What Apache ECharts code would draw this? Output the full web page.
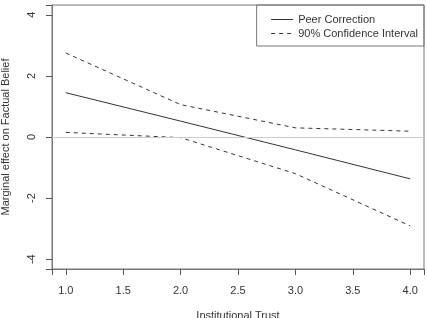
<!DOCTYPE html>
<html>
<head>
<meta charset="utf-8">
<script src="https://cdn.jsdelivr.net/npm/echarts@6/dist/echarts.min.js"></script>
<style>
  html, body { margin: 0; padding: 0; background: #fff; }
  #main { width: 427px; height: 318px; }
</style>
</head>
<body>
<div id="main"></div>
<script>
// institutional trust levels
var trust = [1, 2, 3, 4];
var peerCorrection = [1.45, 0.52, -0.42, -1.37];
var ciUpper = [2.75, 1.06, 0.30, 0.19];
var ciLower = [0.15, -0.02, -1.20, -2.91];
var xTicks = [1.0, 1.5, 2.0, 2.5, 3.0, 3.5, 4.0];
var yTicks = [-4, -2, 0, 2, 4];

function pairs(ys) {
    return trust.map(function (x, i) { return [x, ys[i]]; });
}

var font = 'Liberation Sans, Arial, sans-serif';
var ink = '#333';
var frame = '#777';

var chart = echarts.init(document.getElementById('main'));

var option = {
    animation: false,
    grid: {
        left: 52, right: 3, top: 5, bottom: 49,
        outerBoundsMode: 'none',
        show: true, borderColor: frame, borderWidth: 1
    },
    legend: {
        right: 3, top: 5,
        orient: 'vertical',
        borderColor: frame, borderWidth: 1,
        padding: [9, 6, 7, 14],
        itemGap: 3,
        itemWidth: 22, itemHeight: 12,
        itemStyle: { opacity: 0 },
        lineStyle: { width: 1 },
        textStyle: { fontFamily: font, fontSize: 11, color: ink },
        data: ['Peer Correction', '90% Confidence Interval']
    },
    xAxis: {
        type: 'value',
        min: 0.88, max: 4.12,
        splitNumber: 6,
        name: 'Institutional Trust',
        nameLocation: 'middle',
        nameGap: 41,
        nameTextStyle: { fontFamily: font, fontSize: 11, color: ink },
        axisLine: { show: true, onZero: false, lineStyle: { color: frame } },
        splitLine: { show: false },
        axisTick: { show: true, length: 6, lineStyle: { color: '#555', width: 1 } },
        axisLabel: {
            customValues: xTicks, margin: 16,
            fontFamily: font, fontSize: 11, color: ink,
            formatter: function (v) { return v.toFixed(1); }
        }
    },
    yAxis: {
        type: 'value',
        min: -4.32, max: 4.32,
        name: 'Marginal effect on Factual Belief',
        nameLocation: 'middle',
        nameGap: 41,
        nameTextStyle: { fontFamily: font, fontSize: 11, color: ink },
        axisLine: { show: true, onZero: false, lineStyle: { color: frame } },
        splitLine: { show: false },
        axisTick: { show: true, length: 6, lineStyle: { color: '#555', width: 1 } },
        axisLabel: {
            customValues: yTicks, margin: 15, rotate: 90,
            fontFamily: font, fontSize: 11, color: ink
        }
    },
    series: [
        {
            name: 'Peer Correction',
            type: 'line',
            data: pairs(peerCorrection),
            symbol: 'none',
            lineStyle: { color: ink, width: 1 },
            itemStyle: { color: ink },
            markLine: {
                silent: true,
                symbol: 'none',
                label: { show: false },
                lineStyle: { color: '#ccc', width: 1, type: 'solid' },
                data: [{ yAxis: 0 }]
            }
        },
        {
            name: '90% Confidence Interval',
            type: 'line',
            data: pairs(ciUpper),
            symbol: 'none',
            lineStyle: { color: ink, width: 1, type: [4, 4] },
            itemStyle: { color: ink }
        },
        {
            name: '90% Confidence Interval',
            type: 'line',
            data: pairs(ciLower),
            symbol: 'none',
            lineStyle: { color: ink, width: 1, type: [4, 4] },
            itemStyle: { color: ink }
        }
    ]
};

chart.setOption(option);
</script>
</body>
</html>
